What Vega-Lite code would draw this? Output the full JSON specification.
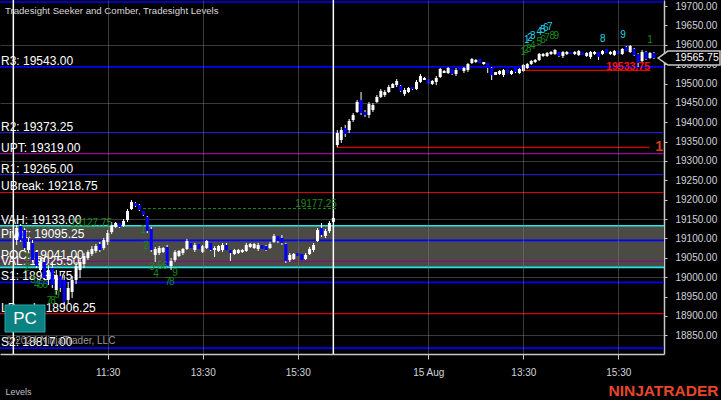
{
  "$schema": "https://vega.github.io/schema/vega-lite/v6.json",
  "width": 664,
  "height": 354,
  "autosize": {"type": "none"},
  "padding": {"left": 0, "top": 0, "right": 57, "bottom": 46},
  "background": "#000000",
  "config": {"view": {"stroke": null}, "font": "Liberation Sans", "axis": {"labelOverlap": false, "labelBound": false}, "scale": {"continuousPadding": 0}},
  "datasets": {
    "bars": [
      {"i":0,"o":19096,"h":19134.75,"l":19083.25,"c":19127},
      {"i":1,"o":19132.25,"h":19137.5,"l":19091,"c":19096},
      {"i":2,"o":19122,"h":19127,"l":19070.25,"c":19075.5},
      {"i":3,"o":19070.25,"h":19101.25,"l":19065.25,"c":19091},
      {"i":4,"o":19088.5,"h":19096,"l":19039.25,"c":19044.5},
      {"i":5,"o":19065.25,"h":19070.25,"l":19023.75,"c":19029},
      {"i":6,"o":19018.75,"h":19049.75,"l":19013.5,"c":19039.25},
      {"i":7,"o":19039.25,"h":19049.75,"l":18993,"c":18998},
      {"i":8,"o":18993,"h":19031.5,"l":18980,"c":19018.75},
      {"i":9,"o":19023.75,"h":19039.25,"l":18972.25,"c":18980},
      {"i":10,"o":18967,"h":19018.75,"l":18954.25,"c":19005.75},
      {"i":11,"o":19003.25,"h":19013.5,"l":18962,"c":18972.25},
      {"i":12,"o":18993,"h":19005.75,"l":18928.25,"c":18936},
      {"i":13,"o":18941.25,"h":18987.75,"l":18933.5,"c":18972.25},
      {"i":14,"o":18962,"h":19003.25,"l":18946.5,"c":18993},
      {"i":15,"o":18993,"h":19039.25,"l":18982.5,"c":19029},
      {"i":16,"o":19018.75,"h":19049.75,"l":18998,"c":19039.25},
      {"i":17,"o":19034.25,"h":19062.5,"l":19023.75,"c":19054.75},
      {"i":18,"o":19049.75,"h":19070.25,"l":19044.5,"c":19065.25},
      {"i":19,"o":19060,"h":19080.5,"l":19054.75,"c":19073},
      {"i":20,"o":19067.75,"h":19085.75,"l":19062.5,"c":19080.5},
      {"i":21,"o":19085.75,"h":19091,"l":19065.25,"c":19070.25},
      {"i":22,"o":19075.5,"h":19101.25,"l":19070.25,"c":19096},
      {"i":23,"o":19091,"h":19122,"l":19083.25,"c":19114.25},
      {"i":24,"o":19116.75,"h":19142.5,"l":19111.5,"c":19134.75},
      {"i":25,"o":19129.75,"h":19142.5,"l":19127,"c":19140},
      {"i":26,"o":19140,"h":19140,"l":19127,"c":19129.75},
      {"i":27,"o":19132.25,"h":19150.25,"l":19129.75,"c":19145.25},
      {"i":28,"o":19147.75,"h":19176,"l":19142.5,"c":19171},
      {"i":29,"o":19176,"h":19199.25,"l":19173.5,"c":19194.25},
      {"i":30,"o":19191.5,"h":19194.25,"l":19181.25,"c":19184},
      {"i":31,"o":19186.5,"h":19189,"l":19171,"c":19173.5},
      {"i":32,"o":19171,"h":19171,"l":19158,"c":19160.75},
      {"i":33,"o":19155.5,"h":19158,"l":19114.25,"c":19119.25},
      {"i":34,"o":19124.5,"h":19129.75,"l":19065.25,"c":19070.25},
      {"i":35,"o":19057.5,"h":19078,"l":19039.25,"c":19073},
      {"i":36,"o":19062.5,"h":19080.5,"l":19057.5,"c":19075.5},
      {"i":37,"o":19065.25,"h":19078,"l":19062.5,"c":19075.5},
      {"i":38,"o":19078,"h":19083.25,"l":19023.75,"c":19029},
      {"i":39,"o":19029,"h":19049.75,"l":19018.75,"c":19042},
      {"i":40,"o":19044.5,"h":19070.25,"l":19039.25,"c":19065.25},
      {"i":41,"o":19054.75,"h":19070.25,"l":19052.25,"c":19067.75},
      {"i":42,"o":19062.5,"h":19075.5,"l":19057.5,"c":19073},
      {"i":43,"o":19073,"h":19098.75,"l":19070.25,"c":19093.5},
      {"i":44,"o":19088.5,"h":19088.5,"l":19075.5,"c":19075.5},
      {"i":45,"o":19070.25,"h":19088.5,"l":19065.25,"c":19083.25},
      {"i":46,"o":19085.75,"h":19085.75,"l":19073,"c":19073},
      {"i":47,"o":19065.25,"h":19083.25,"l":19062.5,"c":19080.5},
      {"i":48,"o":19075.5,"h":19096,"l":19073,"c":19093.5},
      {"i":49,"o":19088.5,"h":19088.5,"l":19067.75,"c":19070.25},
      {"i":50,"o":19070.25,"h":19080.5,"l":19052.25,"c":19075.5},
      {"i":51,"o":19067.75,"h":19083.25,"l":19065.25,"c":19080.5},
      {"i":52,"o":19070.25,"h":19088.5,"l":19065.25,"c":19083.25},
      {"i":53,"o":19083.25,"h":19088.5,"l":19070.25,"c":19070.25},
      {"i":54,"o":19070.25,"h":19070.25,"l":19042,"c":19062.5},
      {"i":55,"o":19060,"h":19073,"l":19057.5,"c":19070.25},
      {"i":56,"o":19062.5,"h":19073,"l":19060,"c":19070.25},
      {"i":57,"o":19065.25,"h":19073,"l":19062.5,"c":19070.25},
      {"i":58,"o":19067.75,"h":19088.5,"l":19065.25,"c":19083.25},
      {"i":59,"o":19078,"h":19088.5,"l":19075.5,"c":19085.75},
      {"i":60,"o":19075.5,"h":19088.5,"l":19073,"c":19085.75},
      {"i":61,"o":19073,"h":19088.5,"l":19067.75,"c":19083.25},
      {"i":62,"o":19083.25,"h":19083.25,"l":19073,"c":19073},
      {"i":63,"o":19080.5,"h":19083.25,"l":19067.75,"c":19070.25},
      {"i":64,"o":19075.5,"h":19091,"l":19073,"c":19085.75},
      {"i":65,"o":19091,"h":19111.5,"l":19088.5,"c":19106.5},
      {"i":66,"o":19106.5,"h":19106.5,"l":19088.5,"c":19093.5},
      {"i":67,"o":19101.25,"h":19109,"l":19083.25,"c":19088.5},
      {"i":68,"o":19085.75,"h":19088.5,"l":19036.75,"c":19042},
      {"i":69,"o":19044.5,"h":19062.5,"l":19039.25,"c":19057.5},
      {"i":70,"o":19047,"h":19062.5,"l":19044.5,"c":19060},
      {"i":71,"o":19062.5,"h":19062.5,"l":19054.75,"c":19054.75},
      {"i":72,"o":19060,"h":19060,"l":19044.5,"c":19044.5},
      {"i":73,"o":19047,"h":19062.5,"l":19044.5,"c":19057.5},
      {"i":74,"o":19060,"h":19078,"l":19057.5,"c":19073},
      {"i":75,"o":19070.25,"h":19088.5,"l":19065.25,"c":19083.25},
      {"i":76,"o":19093.5,"h":19127,"l":19091,"c":19122},
      {"i":77,"o":19127,"h":19140,"l":19103.75,"c":19109},
      {"i":78,"o":19106.5,"h":19124.5,"l":19101.25,"c":19119.25},
      {"i":79,"o":19119.25,"h":19145.25,"l":19114.25,"c":19140},
      {"i":80,"o":19142.5,"h":19153,"l":19142.5,"c":19153},
      {"i":81,"o":19341.25,"h":19380,"l":19335.25,"c":19372.25},
      {"i":82,"o":19354.25,"h":19387.75,"l":19346.5,"c":19380},
      {"i":83,"o":19385.25,"h":19393,"l":19362,"c":19369.75},
      {"i":84,"o":19380,"h":19408.5,"l":19372.25,"c":19403.25},
      {"i":85,"o":19405.75,"h":19424,"l":19400.75,"c":19418.75},
      {"i":86,"o":19426.5,"h":19457.5,"l":19424,"c":19452.25},
      {"i":87,"o":19457.5,"h":19478,"l":19418.75,"c":19424},
      {"i":88,"o":19426.5,"h":19431.5,"l":19413.5,"c":19418.75},
      {"i":89,"o":19418.75,"h":19452.25,"l":19411,"c":19447},
      {"i":90,"o":19431.5,"h":19449.75,"l":19426.5,"c":19444.5},
      {"i":91,"o":19452.25,"h":19470.25,"l":19449.75,"c":19465.25},
      {"i":92,"o":19465.25,"h":19485.75,"l":19462.5,"c":19480.75},
      {"i":93,"o":19470.25,"h":19483.25,"l":19465.25,"c":19478},
      {"i":94,"o":19478,"h":19496,"l":19475.5,"c":19491},
      {"i":95,"o":19488.5,"h":19501.25,"l":19488.5,"c":19498.75},
      {"i":96,"o":19496,"h":19511.5,"l":19491,"c":19506.5},
      {"i":97,"o":19493.5,"h":19496,"l":19478,"c":19480.75},
      {"i":98,"o":19473,"h":19488.5,"l":19467.75,"c":19483.25},
      {"i":99,"o":19478,"h":19491,"l":19475.5,"c":19488.5},
      {"i":100,"o":19491,"h":19491,"l":19483.25,"c":19485.75},
      {"i":101,"o":19485.75,"h":19509,"l":19483.25,"c":19504},
      {"i":102,"o":19504,"h":19524.5,"l":19501.25,"c":19519.25},
      {"i":103,"o":19509,"h":19516.75,"l":19509,"c":19514.25},
      {"i":104,"o":19511.5,"h":19511.5,"l":19498.75,"c":19498.75},
      {"i":105,"o":19498.75,"h":19509,"l":19496,"c":19506.5},
      {"i":106,"o":19504,"h":19519.25,"l":19496,"c":19514.25},
      {"i":107,"o":19516.75,"h":19540,"l":19514.25,"c":19537.5},
      {"i":108,"o":19527,"h":19534.75,"l":19527,"c":19532.25},
      {"i":109,"o":19527,"h":19542.5,"l":19524.5,"c":19540},
      {"i":110,"o":19537.5,"h":19537.5,"l":19522,"c":19524.5},
      {"i":111,"o":19524.5,"h":19540,"l":19519.25,"c":19534.75},
      {"i":112,"o":19540,"h":19540,"l":19534.75,"c":19534.75},
      {"i":113,"o":19532.25,"h":19542.5,"l":19527,"c":19540},
      {"i":114,"o":19534.75,"h":19553,"l":19529.75,"c":19550.25},
      {"i":115,"o":19553,"h":19565.75,"l":19550.25,"c":19563.25},
      {"i":116,"o":19555.5,"h":19563.25,"l":19553,"c":19560.75},
      {"i":117,"o":19563.25,"h":19563.25,"l":19553,"c":19553},
      {"i":118,"o":19550.25,"h":19555.5,"l":19547.75,"c":19555.5},
      {"i":119,"o":19553,"h":19553,"l":19527,"c":19540},
      {"i":120,"o":19540,"h":19542.5,"l":19509,"c":19522},
      {"i":121,"o":19522,"h":19529.75,"l":19522,"c":19529.75},
      {"i":122,"o":19524.5,"h":19534.75,"l":19522,"c":19532.25},
      {"i":123,"o":19522,"h":19537.5,"l":19516.75,"c":19534.75},
      {"i":124,"o":19537.5,"h":19537.5,"l":19527,"c":19527},
      {"i":125,"o":19524.5,"h":19534.75,"l":19522,"c":19532.25},
      {"i":126,"o":19540,"h":19540,"l":19527,"c":19529.75},
      {"i":127,"o":19527,"h":19540,"l":19524.5,"c":19537.5},
      {"i":128,"o":19532.25,"h":19550.25,"l":19529.75,"c":19547.75},
      {"i":129,"o":19540,"h":19553,"l":19537.5,"c":19550.25},
      {"i":130,"o":19550.25,"h":19560.75,"l":19547.75,"c":19558},
      {"i":131,"o":19555.5,"h":19563.25,"l":19553,"c":19560.75},
      {"i":132,"o":19560.75,"h":19578.75,"l":19558,"c":19576.25},
      {"i":133,"o":19571,"h":19578.75,"l":19568.5,"c":19576.25},
      {"i":134,"o":19571,"h":19581.25,"l":19568.5,"c":19578.75},
      {"i":135,"o":19576.25,"h":19584,"l":19573.5,"c":19581.25},
      {"i":136,"o":19576.25,"h":19589,"l":19573.5,"c":19586.5},
      {"i":137,"o":19581.25,"h":19581.25,"l":19568.5,"c":19571},
      {"i":138,"o":19571,"h":19584,"l":19565.75,"c":19581.25},
      {"i":139,"o":19576.25,"h":19584,"l":19573.5,"c":19581.25},
      {"i":140,"o":19581.25,"h":19581.25,"l":19576.25,"c":19576.25},
      {"i":141,"o":19576.25,"h":19584,"l":19573.5,"c":19581.25},
      {"i":142,"o":19573.5,"h":19586.5,"l":19571,"c":19584},
      {"i":143,"o":19581.25,"h":19581.25,"l":19573.5,"c":19573.5},
      {"i":144,"o":19571,"h":19581.25,"l":19568.5,"c":19578.75},
      {"i":145,"o":19568.5,"h":19584,"l":19563.25,"c":19581.25},
      {"i":146,"o":19576.25,"h":19584,"l":19573.5,"c":19581.25},
      {"i":147,"o":19581.25,"h":19581.25,"l":19560.75,"c":19568.5},
      {"i":148,"o":19576.25,"h":19586.5,"l":19573.5,"c":19584},
      {"i":149,"o":19589,"h":19589,"l":19578.75,"c":19578.75},
      {"i":150,"o":19576.25,"h":19584,"l":19573.5,"c":19581.25},
      {"i":151,"o":19573.5,"h":19586.5,"l":19571,"c":19584},
      {"i":152,"o":19584,"h":19584,"l":19576.25,"c":19576.25},
      {"i":153,"o":19576.25,"h":19591.5,"l":19573.5,"c":19589},
      {"i":154,"o":19594.25,"h":19596.75,"l":19584,"c":19584},
      {"i":155,"o":19581.25,"h":19599.25,"l":19578.75,"c":19596.75},
      {"i":156,"o":19589,"h":19591.5,"l":19571,"c":19573.5},
      {"i":157,"o":19576.25,"h":19578.75,"l":19542.5,"c":19553},
      {"i":158,"o":19558,"h":19586.5,"l":19553,"c":19581.25},
      {"i":159,"o":19581.25,"h":19584,"l":19560.75,"c":19563.25},
      {"i":160,"o":19565.75,"h":19581.25,"l":19563.25,"c":19578.75},
      {"i":161,"o":19578.75,"h":19581.25,"l":19563.25,"c":19565.75}
    ],
    "levels": [
      {"name":"R4","value":19710.25,"label":""},
      {"name":"R3","value":19543.00,"label":"R3: 19543.00"},
      {"name":"R2","value":19373.25,"label":"R2: 19373.25"},
      {"name":"UPT","value":19319.00,"label":"UPT: 19319.00"},
      {"name":"R1","value":19265.00,"label":"R1: 19265.00"},
      {"name":"UBreak","value":19218.75,"label":"UBreak: 19218.75"},
      {"name":"VAH","value":19133.00,"label":"VAH: 19133.00"},
      {"name":"Pivot","value":19095.25,"label":"Pivot: 19095.25"},
      {"name":"POC","value":19041.00,"label":"POC: 19041.00"},
      {"name":"VAL","value":19025.50,"label":"VAL: 19025.50"},
      {"name":"S1","value":18986.75,"label":"S1: 18986.75"},
      {"name":"LBreak","value":18906.25,"label":"LBreak: 18906.25"},
      {"name":"S2","value":18817.00,"label":"S2: 18817.00"}
    ],
    "segs": [
      {"kind":"red","start":81,"end":159.8,"price":19335.25,"label":"19335.25"},
      {"kind":"red2","start":128,"end":160,"price":19533.75,"label":"19533.75"},
      {"kind":"green","start":31.9,"end":80.9,"price":19177.25,"label":"19177.25"},
      {"kind":"green","start":0,"end":24.1,"price":19127.75,"label":"19127.75"}
    ],
    "digits": [
      {"set":"cyan","i":128.9,"p":19612.3,"d":"1"},
      {"set":"cyan","i":129.7,"p":19617.4,"d":"2"},
      {"set":"cyan","i":130.4,"p":19622.6,"d":"3"},
      {"set":"cyan","i":132.0,"p":19632.9,"d":"4"},
      {"set":"cyan","i":133.0,"p":19638.1,"d":"5"},
      {"set":"cyan","i":133.7,"p":19643.2,"d":"6"},
      {"set":"cyan","i":134.7,"p":19645.8,"d":"7"},
      {"set":"cyan","i":148.1,"p":19616.1,"d":"8"},
      {"set":"cyan","i":153.2,"p":19623.9,"d":"9"},
      {"set":"green","i":127.9,"p":19581.3,"d":"1"},
      {"set":"green","i":128.7,"p":19586.5,"d":"2"},
      {"set":"green","i":129.4,"p":19589.0,"d":"3"},
      {"set":"green","i":130.4,"p":19596.8,"d":"4"},
      {"set":"green","i":132.0,"p":19607.1,"d":"5"},
      {"set":"green","i":133.0,"p":19612.3,"d":"6"},
      {"set":"green","i":134.0,"p":19617.4,"d":"7"},
      {"set":"green","i":135.3,"p":19622.6,"d":"8"},
      {"set":"green","i":136.3,"p":19622.6,"d":"9"},
      {"set":"green","i":160.0,"p":19612.3,"d":"1"},
      {"set":"green","i":31.9,"p":19121.9,"d":"1"},
      {"set":"green","i":32.7,"p":19080.6,"d":"2"},
      {"set":"green","i":34.2,"p":19026.4,"d":"3"},
      {"set":"green","i":35.2,"p":19008.4,"d":"4"},
      {"set":"green","i":36.2,"p":19029.0,"d":"5"},
      {"set":"green","i":37.5,"p":19029.0,"d":"6"},
      {"set":"green","i":38.2,"p":18987.7,"d":"7"},
      {"set":"green","i":39.2,"p":18987.7,"d":"8"},
      {"set":"green","i":40.0,"p":19011.0,"d":"9"},
      {"set":"green","i":2.6,"p":19049.7,"d":"1"},
      {"set":"green","i":2.6,"p":19023.8,"d":"2"},
      {"set":"green","i":4.1,"p":18992.9,"d":"3"},
      {"set":"green","i":5.1,"p":18980.0,"d":"4"},
      {"set":"green","i":6.1,"p":18980.0,"d":"5"},
      {"set":"green","i":7.2,"p":18980.0,"d":"6"},
      {"set":"green","i":8.2,"p":18938.7,"d":"7"},
      {"set":"green","i":9.2,"p":18938.7,"d":"8"},
      {"set":"green","i":10.2,"p":18954.2,"d":"9"}
    ]
  },
  "layer": [
    {
      "data": {"values": [{"top": 19133.0, "bottom": 19025.5}]},
      "mark": {"type": "rect", "color": "#4b4a44"},
      "encoding": {
        "x": {"datum": -4.22, "type": "quantitative",
          "scale": {"domain": [-4.22, 163.54], "nice": false, "zero": false, "padding": 0},
          "axis": {
            "values": [23, 47, 71, 104, 128, 152], "tickCount": 40,
            "labelExpr": "datum.value < 30 ? '11:30' : datum.value < 50 ? '13:30' : datum.value < 80 ? '15:30' : datum.value < 110 ? '15 Aug' : datum.value < 140 ? '13:30' : '15:30'",
            "grid": true, "gridColor": "#808080", "gridOpacity": 0.45, "gridWidth": 1,
            "domain": true, "domainColor": "#c8c8c8", "domainWidth": 1.5, "ticks": true, "tickColor": "#c8c8c8", "tickSize": 5,
            "labels": true, "labelColor": "#d0d4dc", "labelFontSize": 10, "labelFont": "Liberation Sans", "labelPadding": 8,
            "labelFlush": false, "labelOverlap": false, "labelBound": false,
            "title": "Levels", "titleColor": "#c0c0c0", "titleFontSize": 9, "titleFontWeight": "normal", "titleFont": "Liberation Sans",
            "titleAnchor": "start", "titleAlign": "left", "titleX": 5, "titleY": 40, "titleBaseline": "alphabetic",
            "zindex": 1
          }
        },
        "x2": {"datum": 163.54},
        "y": {"field": "top", "type": "quantitative",
          "scale": {"domain": [18801.9, 19715.5], "nice": false, "zero": false, "padding": 0},
          "axis": {
            "orient": "right",
            "values": [18850, 18900, 18950, 19000, 19050, 19100, 19150, 19200, 19250, 19300, 19350, 19400, 19450, 19500, 19550, 19600, 19650, 19700],
            "tickCount": 40,
            "format": ".2f",
            "grid": true, "gridColor": "#808080",
            "gridOpacity": {"condition": {"test": "datum.value % 150 === 100", "value": 0.45}, "value": 0},
            "domain": true, "domainColor": "#c8c8c8", "domainWidth": 1.5, "ticks": true, "tickColor": "#c8c8c8", "tickSize": 3,
            "labels": true, "labelColor": "#d0d4dc", "labelFontSize": 10, "labelFont": "Liberation Sans", "labelPadding": 8,
            "labelFlush": false, "labelOverlap": false, "labelBound": false, "labelSeparation": 0,
            "title": "NINJATRADER", "titleColor": "#e8462a", "titleFontSize": 15.5, "titleFontWeight": "bold", "titleFont": "Liberation Sans",
            "titleAngle": 0, "titleAlign": "left", "titleX": -56, "titleY": 395, "titleBaseline": "alphabetic",
            "zindex": 0
          }
        },
        "y2": {"field": "bottom"}
      }
    },
    {
      "data": {"name": "levels"},
      "transform": [{"filter": {"field": "name", "oneOf": ["R4", "R3", "Pivot", "S1", "S2", "VAH", "VAL"]}}],
      "mark": {"type": "rule", "strokeWidth": 1.6},
      "encoding": {
        "y": {"field": "value", "type": "quantitative", "scale": {"domain": [18801.9, 19715.5], "nice": false, "zero": false, "padding": 0}},
        "color": {"field": "name", "type": "nominal", "legend": null,
          "scale": {"domain": ["R4","R3","R2","UPT","R1","UBreak","VAH","Pivot","POC","VAL","S1","LBreak","S2"],
                    "range": ["#0000ff","#0000ff","#2020b8","#a000a0","#2020b8","#e00000","#20e8e8","#0000ff","#7a147a","#20e8e8","#0000ff","#e00000","#0000ff"]}}
      }
    },
    {
      "data": {"name": "levels"},
      "transform": [{"filter": {"field": "name", "oneOf": ["R2", "UPT", "R1", "UBreak", "POC", "LBreak"]}}],
      "mark": {"type": "rule", "strokeWidth": 1.2},
      "encoding": {
        "y": {"field": "value", "type": "quantitative", "scale": {"domain": [18801.9, 19715.5], "nice": false, "zero": false, "padding": 0}},
        "color": {"field": "name", "type": "nominal", "legend": null}
      }
    },
    {
      "data": {"name": "levels"},
      "transform": [{"filter": "datum.label != ''"}],
      "mark": {"type": "text", "align": "left", "baseline": "alphabetic", "dy": -2, "xOffset": 1, "fontSize": 12, "color": "#ffffff", "font": "Liberation Sans"},
      "encoding": {
        "x": {"datum": -4.22, "type": "quantitative", "scale": {"domain": [-4.22, 163.54], "nice": false, "zero": false, "padding": 0}},
        "y": {"field": "value", "type": "quantitative", "scale": {"domain": [18801.9, 19715.5], "nice": false, "zero": false, "padding": 0}},
        "text": {"field": "label"}
      }
    },
    {
      "data": {"values": [{"t": "Tradesight Seeker and Comber, Tradesight Levels"}]},
      "mark": {"type": "text", "align": "left", "baseline": "alphabetic", "xOffset": 5, "fontSize": 9.6, "color": "#d8d8d8", "font": "Liberation Sans"},
      "encoding": {
        "x": {"datum": -4.22, "type": "quantitative", "scale": {"domain": [-4.22, 163.54], "nice": false, "zero": false, "padding": 0}},
        "y": {"datum": 19678.1, "type": "quantitative", "scale": {"domain": [18801.9, 19715.5], "nice": false, "zero": false, "padding": 0}},
        "text": {"field": "t"}
      }
    },
    {
      "data": {"values": [{"i": -0.85}, {"i": 80}]},
      "mark": {"type": "rule", "color": "#ffffff", "strokeWidth": 1.5},
      "encoding": {"x": {"field": "i", "type": "quantitative", "scale": {"domain": [-4.22, 163.54], "nice": false, "zero": false, "padding": 0}}}
    },
    {
      "data": {"name": "segs"},
      "transform": [{"filter": "datum.kind != 'green'"}],
      "mark": {"type": "rule", "color": "#e00000", "strokeWidth": 1.2},
      "encoding": {
        "x": {"field": "start", "type": "quantitative", "scale": {"domain": [-4.22, 163.54], "nice": false, "zero": false, "padding": 0}},
        "x2": {"field": "end"},
        "y": {"field": "price", "type": "quantitative", "scale": {"domain": [18801.9, 19715.5], "nice": false, "zero": false, "padding": 0}}
      }
    },
    {
      "data": {"name": "segs"},
      "transform": [{"filter": "datum.kind == 'green'"}],
      "mark": {"type": "rule", "color": "#1c8a1c", "strokeWidth": 1, "strokeDash": [3, 2]},
      "encoding": {
        "x": {"field": "start", "type": "quantitative", "scale": {"domain": [-4.22, 163.54], "nice": false, "zero": false, "padding": 0}},
        "x2": {"field": "end"},
        "y": {"field": "price", "type": "quantitative", "scale": {"domain": [18801.9, 19715.5], "nice": false, "zero": false, "padding": 0}}
      }
    },
    {
      "data": {"name": "bars"},
      "mark": {"type": "rule", "color": "#ffffff", "strokeWidth": 1},
      "encoding": {
        "x": {"field": "i", "type": "quantitative", "scale": {"domain": [-4.22, 163.54], "nice": false, "zero": false, "padding": 0}},
        "y": {"field": "l", "type": "quantitative", "scale": {"domain": [18801.9, 19715.5], "nice": false, "zero": false, "padding": 0}},
        "y2": {"field": "h"}
      }
    },
    {
      "data": {"name": "bars"},
      "mark": {"type": "bar", "size": 3},
      "encoding": {
        "x": {"field": "i", "type": "quantitative", "scale": {"domain": [-4.22, 163.54], "nice": false, "zero": false, "padding": 0}},
        "y": {"field": "o", "type": "quantitative", "scale": {"domain": [18801.9, 19715.5], "nice": false, "zero": false, "padding": 0}},
        "y2": {"field": "c"},
        "color": {"condition": {"test": "datum.c >= datum.o", "value": "#ffffff"}, "value": "#0000ff"}
      }
    },
    {
      "data": {"name": "segs"},
      "transform": [{"filter": "datum.kind == 'green'"}],
      "mark": {"type": "text", "align": "right", "baseline": "alphabetic", "dy": -2, "fontSize": 10, "color": "#1c8a1c", "font": "Liberation Sans"},
      "encoding": {
        "x": {"field": "end", "type": "quantitative", "scale": {"domain": [-4.22, 163.54], "nice": false, "zero": false, "padding": 0}},
        "y": {"field": "price", "type": "quantitative", "scale": {"domain": [18801.9, 19715.5], "nice": false, "zero": false, "padding": 0}},
        "text": {"field": "label"}
      }
    },
    {
      "data": {"name": "segs"},
      "transform": [{"filter": "datum.kind == 'red2'"}],
      "mark": {"type": "text", "align": "right", "baseline": "alphabetic", "dy": 0, "fontSize": 10.5, "fontWeight": "bold", "color": "#ff1010", "font": "Liberation Sans"},
      "encoding": {
        "x": {"field": "end", "type": "quantitative", "scale": {"domain": [-4.22, 163.54], "nice": false, "zero": false, "padding": 0}},
        "y": {"field": "price", "type": "quantitative", "scale": {"domain": [18801.9, 19715.5], "nice": false, "zero": false, "padding": 0}},
        "text": {"field": "label"}
      }
    },
    {
      "data": {"name": "segs"},
      "transform": [{"filter": "datum.kind == 'red'"}],
      "mark": {"type": "text", "align": "left", "baseline": "middle", "xOffset": 6, "fontSize": 14, "fontWeight": "bold", "color": "#d83a18", "font": "Liberation Sans", "clip": true},
      "encoding": {
        "x": {"field": "end", "type": "quantitative", "scale": {"domain": [-4.22, 163.54], "nice": false, "zero": false, "padding": 0}},
        "y": {"field": "price", "type": "quantitative", "scale": {"domain": [18801.9, 19715.5], "nice": false, "zero": false, "padding": 0}},
        "text": {"field": "label"}
      }
    },
    {
      "data": {"name": "digits"},
      "transform": [{"filter": "datum.set == 'green'"}],
      "mark": {"type": "text", "align": "center", "baseline": "middle", "fontSize": 10, "color": "#168c16", "font": "Liberation Sans"},
      "encoding": {
        "x": {"field": "i", "type": "quantitative", "scale": {"domain": [-4.22, 163.54], "nice": false, "zero": false, "padding": 0}},
        "y": {"field": "p", "type": "quantitative", "scale": {"domain": [18801.9, 19715.5], "nice": false, "zero": false, "padding": 0}},
        "text": {"field": "d"}
      }
    },
    {
      "data": {"name": "digits"},
      "transform": [{"filter": "datum.set == 'cyan'"}],
      "mark": {"type": "text", "align": "center", "baseline": "middle", "fontSize": 10, "color": "#22d4e6", "font": "Liberation Sans"},
      "encoding": {
        "x": {"field": "i", "type": "quantitative", "scale": {"domain": [-4.22, 163.54], "nice": false, "zero": false, "padding": 0}},
        "y": {"field": "p", "type": "quantitative", "scale": {"domain": [18801.9, 19715.5], "nice": false, "zero": false, "padding": 0}},
        "text": {"field": "d"}
      }
    },
    {
      "data": {"values": [{"t": "© 2024 NinjaTrader, LLC"}]},
      "mark": {"type": "text", "align": "left", "baseline": "alphabetic", "xOffset": 5, "fontSize": 10, "color": "#9a9a9a", "font": "Liberation Sans"},
      "encoding": {
        "x": {"datum": -4.22, "type": "quantitative", "scale": {"domain": [-4.22, 163.54], "nice": false, "zero": false, "padding": 0}},
        "y": {"datum": 18827.7, "type": "quantitative", "scale": {"domain": [18801.9, 19715.5], "nice": false, "zero": false, "padding": 0}},
        "text": {"field": "t"}
      }
    },
    {
      "data": {"values": [{"t": "PC"}]},
      "mark": {"type": "rect", "color": "#0a8282", "stroke": "#2aa6a6", "strokeWidth": 1},
      "encoding": {
        "x": {"datum": -2.96, "type": "quantitative", "scale": {"domain": [-4.22, 163.54], "nice": false, "zero": false, "padding": 0}},
        "x2": {"datum": 7.15},
        "y": {"datum": 18928.4, "type": "quantitative", "scale": {"domain": [18801.9, 19715.5], "nice": false, "zero": false, "padding": 0}},
        "y2": {"datum": 18858.6}
      }
    },
    {
      "data": {"values": [{"t": "PC"}]},
      "mark": {"type": "text", "align": "center", "baseline": "middle", "fontSize": 17, "color": "#ffffff", "font": "Liberation Sans"},
      "encoding": {
        "x": {"datum": 2.1, "type": "quantitative", "scale": {"domain": [-4.22, 163.54], "nice": false, "zero": false, "padding": 0}},
        "y": {"datum": 18893.5, "type": "quantitative", "scale": {"domain": [18801.9, 19715.5], "nice": false, "zero": false, "padding": 0}},
        "text": {"field": "t"}
      }
    },
    {
      "data": {"values": [{"price": 19565.75, "label": "19565.75"}]},
      "mark": {"type": "point", "shape": "M -1 0 L -0.68 -0.226 L 1 -0.226 L 1 0.226 L -0.68 0.226 Z", "size": 3844, "filled": true, "fill": "#000000", "stroke": "#c8c8c8", "strokeWidth": 1.5, "opacity": 1, "xOffset": 25, "clip": false},
      "encoding": {
        "x": {"datum": 163.54, "type": "quantitative", "scale": {"domain": [-4.22, 163.54], "nice": false, "zero": false, "padding": 0}},
        "y": {"field": "price", "type": "quantitative", "scale": {"domain": [18801.9, 19715.5], "nice": false, "zero": false, "padding": 0}}
      }
    },
    {
      "data": {"values": [{"price": 19565.75, "label": "19565.75"}]},
      "mark": {"type": "text", "align": "left", "baseline": "middle", "xOffset": 11, "fontSize": 10.5, "color": "#ffffff", "font": "Liberation Sans", "clip": false},
      "encoding": {
        "x": {"datum": 163.54, "type": "quantitative", "scale": {"domain": [-4.22, 163.54], "nice": false, "zero": false, "padding": 0}},
        "y": {"field": "price", "type": "quantitative", "scale": {"domain": [18801.9, 19715.5], "nice": false, "zero": false, "padding": 0}},
        "text": {"field": "label"}
      }
    }
  ]
}
